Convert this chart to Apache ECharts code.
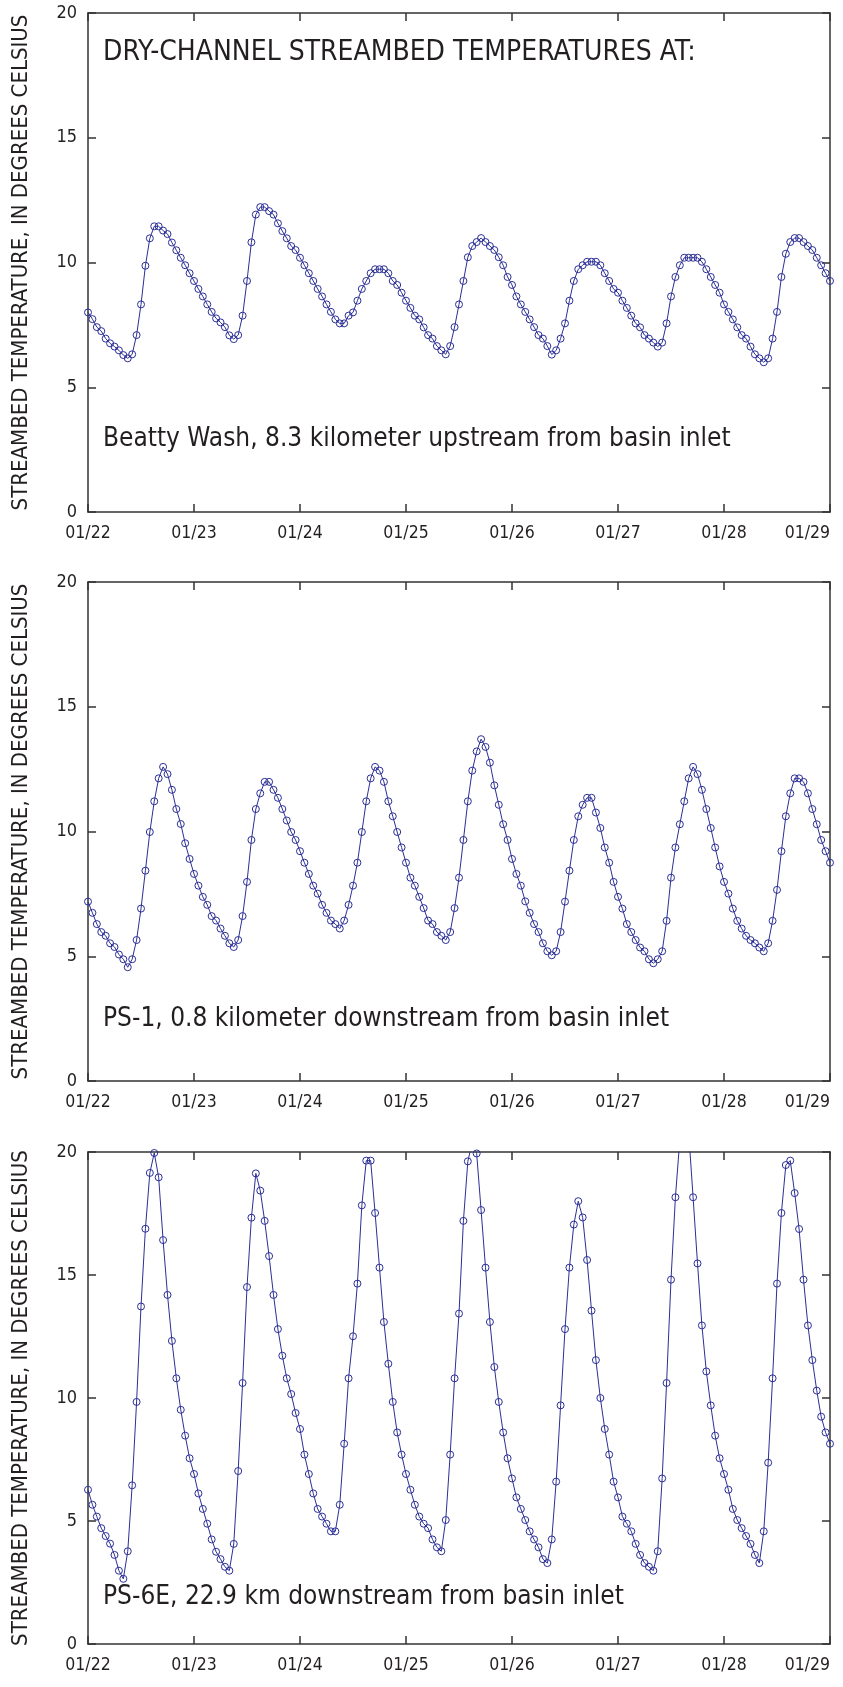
<!DOCTYPE html>
<html>
<head>
<meta charset="utf-8">
<script src="https://cdn.jsdelivr.net/npm/echarts@6/dist/echarts.min.js"></script>
<style>
  html, body { margin: 0; padding: 0; background: #fff; }
  #chart { width: 843px; height: 1687px; }
</style>
</head>
<body>
<div id="chart"></div>
<script>
// Hourly streambed temperatures (degrees Celsius), 01/22 00:00 through 01/29 00:00
const hoursPerReading = 1;
const dayTicks = ['01/22', '01/23', '01/24', '01/25', '01/26', '01/27', '01/28', '01/29'];
const yTicks = [0, 5, 10, 15, 20];

const beattyWash = [
  8.0, 7.73, 7.41, 7.25, 6.95, 6.76, 6.63, 6.48, 6.29, 6.16,
  6.32, 7.09, 8.32, 9.87, 10.97, 11.45, 11.45, 11.28, 11.14, 10.8,
  10.49, 10.19, 9.89, 9.57, 9.26, 8.94, 8.64, 8.32, 8.02, 7.76,
  7.6, 7.41, 7.08, 6.93, 7.09, 7.87, 9.26, 10.81, 11.92, 12.22,
  12.22, 12.06, 11.92, 11.57, 11.26, 10.97, 10.66, 10.5, 10.19, 9.89,
  9.57, 9.26, 8.94, 8.64, 8.32, 8.02, 7.72, 7.56, 7.56, 7.87,
  8.0, 8.47, 8.94, 9.26, 9.57, 9.73, 9.73, 9.73, 9.57, 9.26,
  9.1, 8.79, 8.47, 8.18, 7.87, 7.72, 7.4, 7.09, 6.95, 6.65,
  6.48, 6.32, 6.65, 7.41, 8.32, 9.26, 10.21, 10.66, 10.82, 10.98,
  10.82, 10.66, 10.5, 10.21, 9.89, 9.42, 9.1, 8.64, 8.32, 8.02,
  7.72, 7.41, 7.09, 6.95, 6.65, 6.31, 6.48, 6.95, 7.56, 8.47,
  9.26, 9.73, 9.89, 10.03, 10.03, 10.03, 9.89, 9.57, 9.26, 8.94,
  8.79, 8.47, 8.18, 7.87, 7.56, 7.4, 7.09, 6.95, 6.79, 6.63,
  6.79, 7.56, 8.64, 9.42, 9.89, 10.19, 10.19, 10.19, 10.19, 10.03,
  9.73, 9.42, 9.1, 8.79, 8.32, 8.02, 7.72, 7.4, 7.09, 6.95,
  6.63, 6.32, 6.16, 6.0, 6.16, 6.95, 8.02, 9.42, 10.35, 10.82,
  10.98, 10.98, 10.82, 10.66, 10.5, 10.19, 9.89, 9.57, 9.26
];

const ps1 = [
  7.19, 6.74, 6.29, 5.97, 5.82, 5.52, 5.37, 5.07, 4.88, 4.56,
  4.88, 5.65, 6.91, 8.43, 9.98, 11.21, 12.13, 12.59, 12.3, 11.67,
  10.9, 10.3, 9.53, 8.9, 8.3, 7.83, 7.38, 7.06, 6.61, 6.43,
  6.11, 5.82, 5.52, 5.37, 5.65, 6.61, 7.98, 9.66, 10.9, 11.53,
  11.99, 11.99, 11.67, 11.35, 10.9, 10.44, 9.98, 9.66, 9.21, 8.75,
  8.3, 7.83, 7.51, 7.06, 6.74, 6.43, 6.29, 6.11, 6.43, 7.06,
  7.83, 8.75, 9.98, 11.21, 12.13, 12.59, 12.44, 11.99, 11.21, 10.61,
  9.98, 9.36, 8.75, 8.15, 7.83, 7.38, 6.93, 6.43, 6.29, 5.97,
  5.82, 5.65, 5.97, 6.93, 8.15, 9.66, 11.21, 12.44, 13.21, 13.7,
  13.39, 12.76, 11.85, 11.07, 10.29, 9.66, 8.9, 8.3, 7.83, 7.2,
  6.74, 6.29, 5.97, 5.52, 5.2, 5.04, 5.2, 5.97, 7.19, 8.43,
  9.66, 10.61, 11.07, 11.35, 11.35, 10.76, 10.14, 9.36, 8.75, 7.98,
  7.38, 6.91, 6.29, 5.97, 5.65, 5.35, 5.2, 4.88, 4.72, 4.88,
  5.2, 6.42, 8.15, 9.36, 10.29, 11.21, 12.13, 12.59, 12.3, 11.67,
  10.9, 10.14, 9.36, 8.6, 7.98, 7.51, 6.91, 6.42, 6.11, 5.82,
  5.65, 5.52, 5.35, 5.2, 5.52, 6.42, 7.66, 9.21, 10.61, 11.53,
  12.13, 12.13, 11.99, 11.53, 10.9, 10.29, 9.66, 9.21, 8.75
];

const ps6e = [
  6.27, 5.66, 5.18, 4.71, 4.39, 4.08, 3.62, 2.98, 2.65, 3.77,
  6.45, 9.84, 13.72, 16.88, 19.15, 19.96, 18.97, 16.42, 14.19, 12.32,
  10.8, 9.52, 8.47, 7.55, 6.91, 6.12, 5.49, 4.89, 4.25, 3.75,
  3.45, 3.14, 2.98, 4.07, 7.03, 10.61, 14.51, 17.33, 19.13, 18.43,
  17.2, 15.77, 14.19, 12.8, 11.72, 10.8, 10.16, 9.39, 8.74, 7.7,
  6.91, 6.12, 5.49, 5.18, 4.89, 4.58, 4.58, 5.66, 8.14, 10.8,
  12.51, 14.65, 17.83, 19.65, 19.65, 17.52, 15.3, 13.09, 11.39, 9.84,
  8.6, 7.7, 6.91, 6.27, 5.66, 5.18, 4.89, 4.71, 4.25, 3.93,
  3.77, 5.04, 7.7, 10.8, 13.43, 17.2, 19.62, 20.4, 19.94, 17.64,
  15.3, 13.09, 11.26, 9.84, 8.6, 7.55, 6.73, 5.96, 5.49, 5.04,
  4.58, 4.25, 3.93, 3.45, 3.29, 4.25, 6.6, 9.7, 12.8, 15.3,
  17.05, 18.0, 17.34, 15.61, 13.55, 11.54, 10.0, 8.74, 7.7, 6.6,
  5.96, 5.18, 4.89, 4.58, 4.07, 3.62, 3.29, 3.14, 2.98, 3.77,
  6.73, 10.61, 14.81, 18.16, 20.5, 21.0, 20.8, 18.16, 15.47, 12.95,
  11.08, 9.7, 8.47, 7.55, 6.91, 6.27, 5.49, 5.04, 4.71, 4.39,
  4.07, 3.62, 3.29, 4.58, 7.37, 10.8, 14.65, 17.52, 19.47, 19.65,
  18.33, 16.87, 14.81, 12.95, 11.54, 10.3, 9.24, 8.6, 8.14
];

const panelSeries = [beattyWash, ps1, ps6e];
const panelNotes = [
  'Beatty Wash, 8.3 kilometer upstream from basin inlet',
  'PS-1, 0.8 kilometer downstream from basin inlet',
  'PS-6E, 22.9 km downstream from basin inlet'
];
const headline = 'DRY-CHANNEL STREAMBED TEMPERATURES AT:';
const yAxisTitle = 'STREAMBED TEMPERATURE, IN DEGREES CELSIUS';

// Layout (pixels)
const plotLeft = 88, plotWidth = 742;
const panelBoxes = [
  { top: 13, height: 499, noteY: 439 },
  { top: 582, height: 499, noteY: 1019 },
  { top: 1152, height: 492, noteY: 1597 }
];

const ink = '#231f20';
const frame = '#333333';
const lineBlue = '#2b2f96';
const narrow = "'Liberation Sans Narrow', 'Arial Narrow', 'DejaVu Sans Condensed', sans-serif";

const hourMax = (dayTicks.length - 1) * 24;
const grids = [], xAxes = [], yAxes = [], series = [], graphics = [];

panelBoxes.forEach((box, p) => {
  grids.push({ left: plotLeft, top: box.top, width: plotWidth, height: box.height, containLabel: false });

  const xBase = {
    type: 'value', gridIndex: p, min: 0, max: hourMax, interval: 24,
    axisLine: { show: true, onZero: false, lineStyle: { color: frame, width: 1.5 } },
    axisTick: { show: true, inside: true, length: 8, lineStyle: { color: frame, width: 1.5 } },
    splitLine: { show: false }
  };
  xAxes.push(Object.assign({}, xBase, {
    position: 'bottom',
    axisLabel: {
      show: true, margin: 12, color: ink, fontFamily: narrow, fontSize: 17.5,
      alignMaxLabel: 'right',
      formatter: v => dayTicks[Math.round(v / 24)]
    }
  }));
  xAxes.push(Object.assign({}, xBase, { position: 'top', axisLabel: { show: false } }));

  const yBase = {
    type: 'value', gridIndex: p, min: yTicks[0], max: yTicks[yTicks.length - 1], interval: 5,
    axisLine: { show: true, onZero: false, lineStyle: { color: frame, width: 1.5 } },
    axisTick: { show: true, inside: true, length: 8, lineStyle: { color: frame, width: 1.5 } },
    splitLine: { show: false }
  };
  yAxes.push(Object.assign({}, yBase, {
    position: 'left',
    axisLabel: { show: true, margin: 11, color: ink, fontFamily: narrow, fontSize: 18 }
  }));
  yAxes.push(Object.assign({}, yBase, { position: 'right', axisLabel: { show: false } }));

  series.push({
    type: 'line',
    xAxisIndex: p * 2, yAxisIndex: p * 2,
    data: panelSeries[p].map((v, i) => [i * hoursPerReading, v]),
    clip: true,
    symbol: 'circle', symbolSize: 7, showSymbol: true,
    itemStyle: { color: 'rgba(255,255,255,0)', borderColor: lineBlue, borderWidth: 1 },
    lineStyle: { color: lineBlue, width: 1 },
    emphasis: { disabled: true },
    animation: false
  });

  // Rotated y-axis title for this panel
  graphics.push({
    type: 'text',
    x: 21, y: box.top + box.height / 2,
    rotation: Math.PI / 2,
    style: {
      text: yAxisTitle, fill: ink,
      font: "22px 'Liberation Sans Narrow', 'Arial Narrow', 'DejaVu Sans Condensed', sans-serif",
      align: 'center', verticalAlign: 'middle'
    }
  });

  // Station note inside the plot
  graphics.push({
    type: 'text',
    x: 103, y: box.noteY,
    style: {
      text: panelNotes[p], fill: ink,
      font: "26px 'Liberation Sans Narrow', 'Arial Narrow', 'DejaVu Sans Condensed', sans-serif",
      align: 'left', verticalAlign: 'middle'
    }
  });
});

graphics.push({
  type: 'text',
  x: 103, y: 53,
  style: {
    text: headline, fill: ink,
    font: "28px 'Liberation Sans Narrow', 'Arial Narrow', 'DejaVu Sans Condensed', sans-serif",
    align: 'left', verticalAlign: 'middle'
  }
});

const chart = echarts.init(document.getElementById('chart'), null, { renderer: 'canvas' });
chart.setOption({
  animation: false,
  backgroundColor: '#fff',
  grid: grids,
  xAxis: xAxes,
  yAxis: yAxes,
  series: series,
  graphic: graphics
});
</script>
</body>
</html>
